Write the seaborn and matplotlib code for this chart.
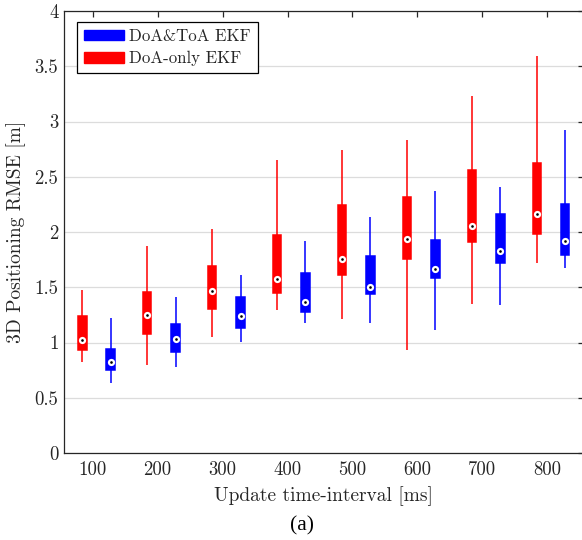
import numpy as np
import pandas as pd
import seaborn as sns
import matplotlib
matplotlib.use("Agg")
import matplotlib.pyplot as plt
from matplotlib.patches import Patch

# ---------------- data ----------------
intervals = ["100", "200", "300", "400", "500", "600", "700", "800"]
methods = ["DoA-only EKF", "DoA&ToA EKF"]
legend_order = ["DoA&ToA EKF", "DoA-only EKF"]

# DoA-only EKF : whisker low, Q1, median, Q3, whisker high
doa_low = [0.82, 0.80, 1.05, 1.29, 1.21, 0.93, 1.35, 1.72]
doa_q1 = [0.93, 1.08, 1.30, 1.45, 1.61, 1.76, 1.91, 1.98]
doa_med = [1.02, 1.245, 1.465, 1.575, 1.755, 1.935, 2.05, 2.165]
doa_q3 = [1.24, 1.46, 1.69, 1.97, 2.24, 2.32, 2.565, 2.625]
doa_high = [1.475, 1.87, 2.025, 2.65, 2.74, 2.835, 3.235, 3.595]

# DoA&ToA EKF
toa_low = [0.635, 0.78, 1.005, 1.18, 1.18, 1.11, 1.34, 1.675]
toa_q1 = [0.75, 0.915, 1.13, 1.275, 1.44, 1.58, 1.72, 1.795]
toa_med = [0.825, 1.035, 1.24, 1.37, 1.50, 1.665, 1.825, 1.915]
toa_q3 = [0.945, 1.17, 1.41, 1.63, 1.78, 1.93, 2.16, 2.25]
toa_high = [1.22, 1.41, 1.61, 1.915, 2.135, 2.375, 2.41, 2.925]

yticks = [0, 0.5, 1, 1.5, 2, 2.5, 3, 3.5, 4]

# ---------------- long-form table ----------------
rows = []
stats = {
    "DoA-only EKF": (doa_low, doa_q1, doa_med, doa_q3, doa_high),
    "DoA&ToA EKF": (toa_low, toa_q1, toa_med, toa_q3, toa_high),
}
for m, arrs in stats.items():
    for i, iv in enumerate(intervals):
        for a in arrs:
            rows.append({"interval": iv, "method": m, "rmse": a[i]})
df = pd.DataFrame(rows)

# ---------------- style ----------------
sns.set_style("white")
plt.rcParams["font.family"] = ["cmr10", "DejaVu Serif"]
plt.rcParams["mathtext.fontset"] = "cm"
plt.rcParams["axes.formatter.use_mathtext"] = True
plt.rcParams["axes.unicode_minus"] = False

palette = {"DoA-only EKF": "#ff0000", "DoA&ToA EKF": "#0000ff"}
dark = "#262626"

fig = plt.figure(figsize=(5.82, 5.40), dpi=100)
ax = fig.add_axes([64 / 582, 87 / 540, 519.5 / 582, 442 / 540])

for m in methods:
    sns.boxplot(
        data=df[df["method"] == m], x="interval", y="rmse",
        hue="method", hue_order=methods, order=intervals, dodge=True,
        palette=palette, saturation=1, width=0.875, gap=0.70,
        whis=np.inf, showcaps=False, linecolor=palette[m], linewidth=1.1,
        medianprops={"visible": False}, legend=False, ax=ax,
    )

# median markers: white circle with black dot
sns.pointplot(
    data=df, x="interval", y="rmse", hue="method", hue_order=methods,
    order=intervals, estimator="median", errorbar=None, dodge=0.4375,
    linestyle="none", markers="o", palette={m: "white" for m in methods},
    markersize=5.2, markeredgewidth=0, legend=False, ax=ax, zorder=5,
)
sns.pointplot(
    data=df, x="interval", y="rmse", hue="method", hue_order=methods,
    order=intervals, estimator="median", errorbar=None, dodge=0.4375,
    linestyle="none", markers="o", palette={m: "black" for m in methods},
    markersize=1.9, markeredgewidth=0, legend=False, ax=ax, zorder=6,
)

# ---------------- axes ----------------
ax.set_xlim(-0.5, 7.5)
ax.set_ylim(0, 4)
ax.set_xticks(np.arange(len(intervals)) - 0.058, intervals)
ax.set_yticks(yticks, [f"{v:g}" for v in yticks])
ax.yaxis.grid(True, color="#dcdcdc", linewidth=0.9)
ax.xaxis.grid(False)
ax.set_axisbelow(True)
for s in ax.spines.values():
    s.set_color(dark)
    s.set_linewidth(0.9)
ax.tick_params(direction="in", top=True, right=True, length=4, width=0.9,
               color=dark, labelcolor=dark, labelsize=13.5)
ax.tick_params(axis="x", pad=6)
ax.tick_params(axis="y", pad=4)
ax.set_xlabel("Update time-interval [ms]", fontsize=14, color=dark, labelpad=5)
ax.set_ylabel("3D Positioning RMSE [m]", fontsize=14, color=dark, labelpad=6)

handles = [Patch(facecolor=palette[m], edgecolor=palette[m], label=m) for m in legend_order]
leg = ax.legend(handles=handles, loc="upper left", bbox_to_anchor=(0.0256, 0.975),
                borderaxespad=0, fontsize=12.1, frameon=True, fancybox=False,
                edgecolor="black", framealpha=1, handlelength=2.4,
                handleheight=0.6, handletextpad=0.3, labelspacing=0.42,
                borderpad=0.4)
leg.get_frame().set_linewidth(0.9)
for t in leg.get_texts():
    t.set_color(dark)

fig.text(302 / 582, 1 - 526 / 540, "(a)", ha="center", va="center",
         fontsize=15.5, family="Liberation Serif", color="black")

fig.savefig("out.png", dpi=100)
